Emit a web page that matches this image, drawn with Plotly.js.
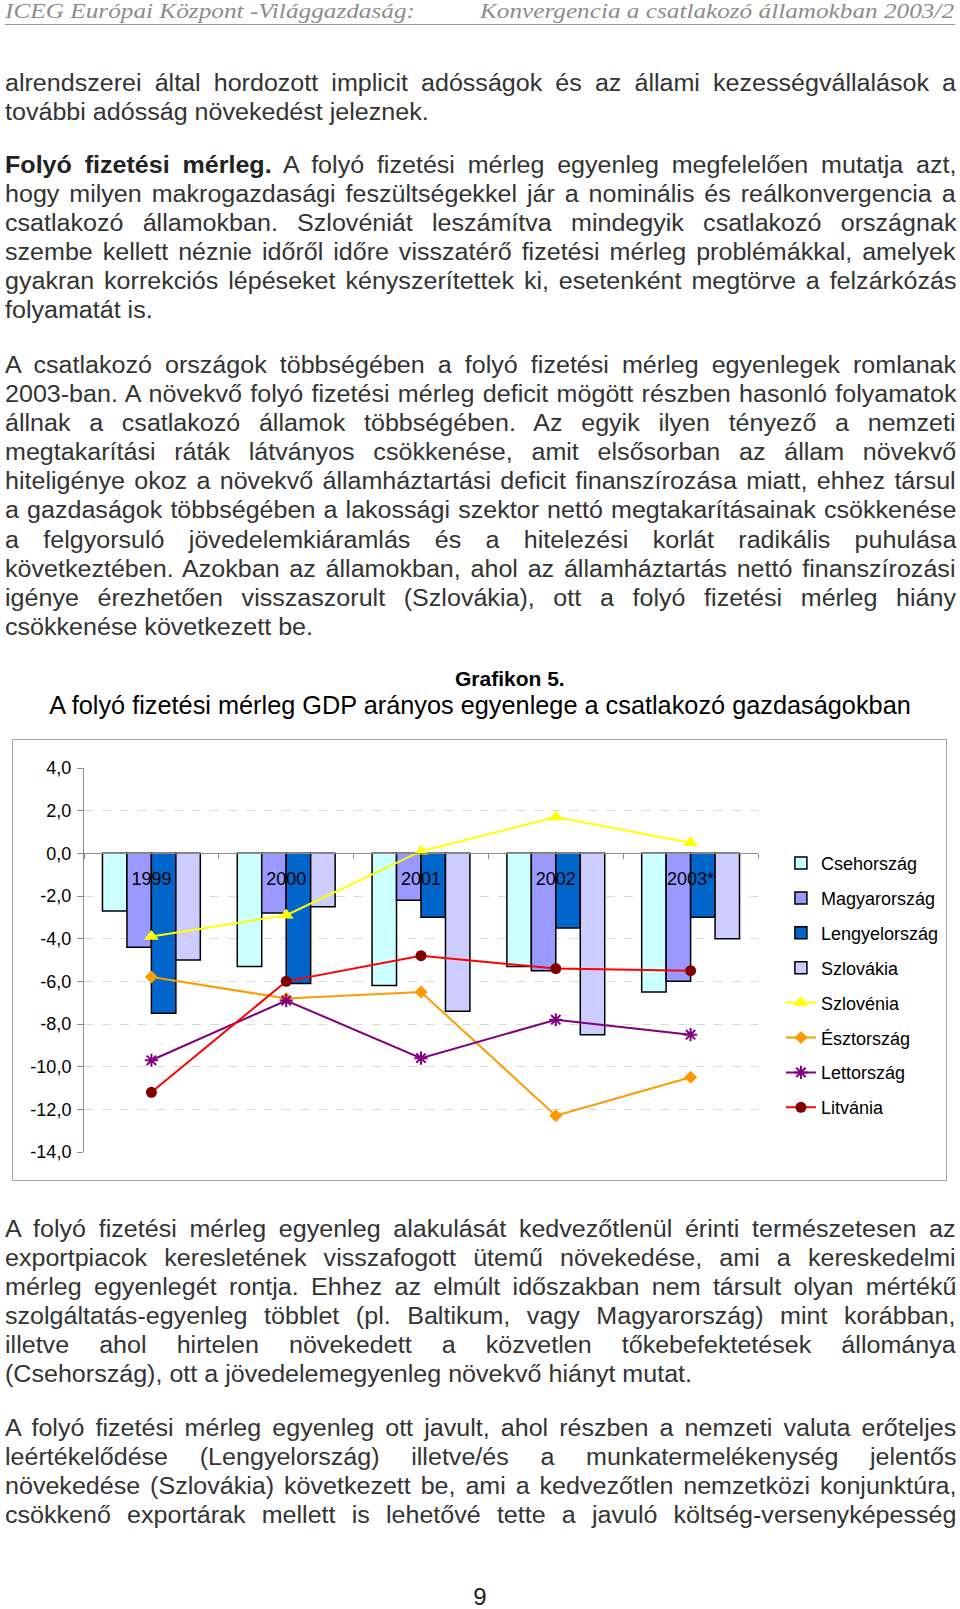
<!DOCTYPE html>
<html>
<head>
<meta charset="utf-8">
<script src="https://cdn.plot.ly/plotly-3.0.1.min.js"></script>
<style>
  html, body { margin:0; padding:0; background:#fff; }
  #page { position:relative; width:960px; height:1609px; overflow:hidden; background:#fff; }
  .hdr { position:absolute; top:1px; font-family:"Liberation Serif","DejaVu Serif",serif; font-style:italic; font-size:21px; line-height:21px; color:#8c8c8c; white-space:nowrap; transform-origin:left top; }
  #hline { position:absolute; left:5px; top:24px; width:950px; height:0; border-top:1.5px solid #9a9a9a; }
  .para { position:absolute; left:5px; width:951px; font-family:"Liberation Sans",Arial,sans-serif; font-size:23px; line-height:29.1px; color:#333; }
  .ln { height:29.1px; white-space:nowrap; }
  .ln span { display:inline-block; transform-origin:left center; }
  .ln b { color:#222; }
  #pnum { position:absolute; left:0; width:960px; top:1583px; text-align:center; font-family:"Liberation Sans",Arial,sans-serif; font-size:24px; line-height:28px; color:#222; }
  #box { position:absolute; left:12px; top:739px; width:933px; height:440px; border:1.5px solid #a6a6a6; }
  #chart { position:absolute; left:0; top:655px; width:960px; height:535px; }
</style>
</head>
<body>
<div id="page">
  <div class="hdr" id="h1" style="left:5px">ICEG Európai Központ -Világgazdaság:</div>
  <div class="hdr" id="h2" style="left:480px">Konvergencia a csatlakozó államokban 2003/2</div>
  <div id="hline"></div>

  <div class="para" style="top:69px">
    <div class="ln j"><span>alrendszerei által hordozott implicit adósságok és az állami kezességvállalások a</span></div>
    <div class="ln"><span>további adósság növekedést jeleznek.</span></div>
  </div>

  <div class="para" style="top:151px">
    <div class="ln j"><span><b>Folyó fizetési mérleg.</b> A folyó fizetési mérleg egyenleg megfelelően mutatja azt,</span></div>
    <div class="ln j"><span>hogy milyen makrogazdasági feszültségekkel jár a nominális és reálkonvergencia a</span></div>
    <div class="ln j"><span>csatlakozó államokban. Szlovéniát leszámítva mindegyik csatlakozó országnak</span></div>
    <div class="ln j"><span>szembe kellett néznie időről időre visszatérő fizetési mérleg problémákkal, amelyek</span></div>
    <div class="ln j"><span>gyakran korrekciós lépéseket kényszerítettek ki, esetenként megtörve a felzárkózás</span></div>
    <div class="ln"><span>folyamatát is.</span></div>
  </div>

  <div class="para" style="top:351px">
    <div class="ln j"><span>A csatlakozó országok többségében a folyó fizetési mérleg egyenlegek romlanak</span></div>
    <div class="ln j"><span>2003-ban. A növekvő folyó fizetési mérleg deficit mögött részben hasonló folyamatok</span></div>
    <div class="ln j"><span>állnak a csatlakozó államok többségében. Az egyik ilyen tényező a nemzeti</span></div>
    <div class="ln j"><span>megtakarítási ráták látványos csökkenése, amit elsősorban az állam növekvő</span></div>
    <div class="ln j"><span>hiteligénye okoz a növekvő államháztartási deficit finanszírozása miatt, ehhez társul</span></div>
    <div class="ln j"><span>a gazdaságok többségében a lakossági szektor nettó megtakarításainak csökkenése</span></div>
    <div class="ln j"><span>a felgyorsuló jövedelemkiáramlás és a hitelezési korlát radikális puhulása</span></div>
    <div class="ln j"><span>következtében. Azokban az államokban, ahol az államháztartás nettó finanszírozási</span></div>
    <div class="ln j"><span>igénye érezhetően visszaszorult (Szlovákia), ott a folyó fizetési mérleg hiány</span></div>
    <div class="ln"><span>csökkenése következett be.</span></div>
  </div>

  <div id="box"></div>
  <div id="chart"></div>

  <div class="para" style="top:1215px">
    <div class="ln j"><span>A folyó fizetési mérleg egyenleg alakulását kedvezőtlenül érinti természetesen az</span></div>
    <div class="ln j"><span>exportpiacok keresletének visszafogott ütemű növekedése, ami a kereskedelmi</span></div>
    <div class="ln j"><span>mérleg egyenlegét rontja. Ehhez az elmúlt időszakban nem társult olyan mértékű</span></div>
    <div class="ln j"><span>szolgáltatás-egyenleg többlet (pl. Baltikum, vagy Magyarország) mint korábban,</span></div>
    <div class="ln j"><span>illetve ahol hirtelen növekedett a közvetlen tőkebefektetések állománya</span></div>
    <div class="ln"><span>(Csehország), ott a jövedelemegyenleg növekvő hiányt mutat.</span></div>
  </div>

  <div class="para" style="top:1414px">
    <div class="ln j"><span>A folyó fizetési mérleg egyenleg ott javult, ahol részben a nemzeti valuta erőteljes</span></div>
    <div class="ln j"><span>leértékelődése (Lengyelország) illetve/és a munkatermelékenység jelentős</span></div>
    <div class="ln j"><span>növekedése (Szlovákia) következett be, ami a kedvezőtlen nemzetközi konjunktúra,</span></div>
    <div class="ln j"><span>csökkenő exportárak mellett is lehetővé tette a javuló költség-versenyképesség</span></div>
  </div>

  <div id="pnum">9</div>
</div>

<script>
// ---- chart data ----
const years = ['1999', '2000', '2001', '2002', '2003*'];
const csehorszag    = [-2.7, -5.3, -6.2, -5.3, -6.5];
const magyarorszag  = [-4.4, -2.8, -2.2, -5.5, -6.0];
const lengyelorszag = [-7.5, -6.1, -3.0, -3.5, -3.0];
const szlovakia     = [-5.0, -2.5, -7.4, -8.5, -4.0];
const szlovenia     = [-3.9, -2.9, 0.1, 1.7, 0.5];
const esztorszag    = [-5.8, -6.8, -6.5, -12.3, -10.5];
const lettorszag    = [-9.7, -6.9, -9.6, -7.8, -8.5];
const litvania      = [-11.2, -6.0, -4.8, -5.4, -5.5];
const yTickVals   = [4, 2, 0, -2, -4, -6, -8, -10, -12, -14];
const yTickLabels = ['4,0', '2,0', '0,0', '-2,0', '-4,0', '-6,0', '-8,0', '-10,0', '-12,0', '-14,0'];
const chartTitle = 'A folyó fizetési mérleg GDP arányos egyenlege a csatlakozó gazdaságokban';
const chartLabel = 'Grafikon 5.';

// ---- text layout helpers ----
function justifyLines() {
  const W = 951, S = 1.09;
  document.querySelectorAll('.ln').forEach(function (el) {
    const sp = el.querySelector('span');
    const nat = sp.offsetWidth;
    if (el.classList.contains('j')) {
      const n = (sp.textContent.match(/ /g) || []).length;
      if (n > 0) sp.style.wordSpacing = ((W / S - nat) / n) + 'px';
    }
    sp.style.transform = 'scaleX(' + S + ')';
  });
  function fit(id, w) {
    const el = document.getElementById(id);
    const nat = el.getBoundingClientRect().width;
    el.style.transform = 'scaleX(' + (w / nat) + ')';
  }
  fit('h1', 410);
  fit('h2', 474);
}
justifyLines();

// ---- chart ----
const yMin = -14, yMax = 4;
const barLine = { color: '#000000', width: 1.5 };
function barTrace(name, vals, color, g) {
  return { type: 'bar', name: name, x: years, y: vals, legendgroup: g,
           marker: { color: color, line: barLine } };
}
function lineTrace(name, vals, lineColor, marker, g) {
  return { type: 'scatter', mode: 'lines+markers', name: name, x: years, y: vals, legendgroup: g,
           line: { color: lineColor, width: 2 }, marker: marker, cliponaxis: false };
}
const traces = [
  barTrace('Csehország', csehorszag, '#CCFFFF', 'g1'),
  barTrace('Magyarország', magyarorszag, '#9999FF', 'g2'),
  barTrace('Lengyelország', lengyelorszag, '#0066CC', 'g3'),
  barTrace('Szlovákia', szlovakia, '#CCCCFF', 'g4'),
  lineTrace('Szlovénia', szlovenia, '#FFFF00', { symbol: 'triangle-up', size: 13, color: '#FFFF00' }, 'g5'),
  lineTrace('Észtország', esztorszag, '#FF9900', { symbol: 'diamond', size: 10, color: '#FF9900' }, 'g6'),
  lineTrace('Lettország', lettorszag, '#800080', { symbol: 'asterisk-open', size: 11, color: '#800080', line: { color: '#800080', width: 2 } }, 'g7'),
  lineTrace('Litvánia', litvania, '#FF0000', { symbol: 'circle', size: 11, color: '#800000' }, 'g8')
];

const layout = {
  width: 960, height: 535,
  margin: { l: 84, r: 202, t: 113, b: 38, pad: 0 },
  paper_bgcolor: 'rgba(0,0,0,0)', plot_bgcolor: 'rgba(0,0,0,0)',
  font: { family: '"Liberation Sans", Arial, sans-serif', size: 18, color: '#000' },
  barmode: 'group', bargap: 0.274, bargroupgap: 0,
  hovermode: false,
  title: { text: chartTitle, font: { size: 25.3, color: '#000' },
           x: 0.5, xref: 'container', xanchor: 'center',
           y: 1 - 50 / 535, yref: 'container', yanchor: 'middle' },
  xaxis: {
    type: 'category', anchor: 'free', position: (0 - yMin) / (yMax - yMin),
    showline: true, linecolor: '#8c8c8c', linewidth: 1,
    ticks: 'outside', tickson: 'boundaries', ticklen: 5, tickcolor: '#8c8c8c', tickwidth: 1,
    showgrid: false, zeroline: false, ticklabelstandoff: 9,
    tickfont: { size: 18, color: '#000' }, fixedrange: true
  },
  yaxis: {
    range: [yMin, yMax], tickmode: 'array', tickvals: yTickVals, ticktext: yTickLabels,
    showline: true, linecolor: '#8c8c8c', linewidth: 1,
    ticks: 'outside', ticklen: 6, tickcolor: '#8c8c8c',
    showgrid: true, gridcolor: '#dadada', griddash: 'dash', gridwidth: 1,
    zeroline: false, tickfont: { size: 18, color: '#000' }, ticklabelstandoff: 2, fixedrange: true
  },
  showlegend: true,
  legend: { x: 1.034, xanchor: 'left', y: 0.8, yanchor: 'top',
            traceorder: 'grouped', tracegroupgap: 8.5,
            font: { size: 18, color: '#000' }, bgcolor: 'rgba(0,0,0,0)' },
  annotations: [{ text: '<b>' + chartLabel + '</b>', xref: 'paper', yref: 'paper',
                  x: (510 - 84) / 674, y: (1152 - 678) / 384, xanchor: 'center', yanchor: 'middle',
                  showarrow: false, font: { size: 21, color: '#000' } }]
};

Plotly.newPlot('chart', traces, layout, { staticPlot: true, displayModeBar: false });
</script>
</body>
</html>
